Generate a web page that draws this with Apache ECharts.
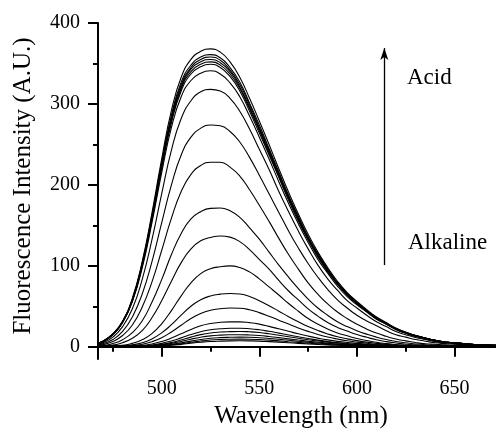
<!DOCTYPE html>
<html>
<head>
<meta charset="utf-8">
<script src="https://cdn.jsdelivr.net/npm/echarts@6/dist/echarts.min.js"></script>
<style>
  html, body { margin: 0; padding: 0; background: #fff; }
  #chart { width: 496px; height: 431px; }
</style>
</head>
<body>
<div id="chart"></div>
<script>
// Emission wavelengths (nm) shared by every scan
const wavelengths = [465,470,475,480,485,490,495,500,505,510,515,520,525,530,535,540,545,550,555,560,565,570,575,580,585,590,595,
                     600,605,610,615,620,625,630,635,640,645,650,660,670,680];

// Fluorescence intensity (A.U.) of each scan, from the acidic end down to the alkaline end
const scan01 = [3,7,16,32,60,105,165,232,292,333,355,365,368,364,352,333,307,279,250,220,191,164,139,117,98,81,67,
                56,46,37,30,23,18,14,11,8,6,5,3,2,2];
const scan02 = [3,7,16,31,59,103,162,228,286,327,348,358,361,357,345,327,301,274,245,216,187,161,136,115,96,79,66,
                55,45,36,29,23,18,14,11,8,6,5,3,2,2];
const scan03 = [3,7,16,31,58,102,161,226,284,324,345,355,358,354,342,324,299,271,243,214,186,160,135,114,95,79,65,
                54,45,36,29,22,18,14,11,8,6,5,3,2,2];
const scan04 = [3,7,15,31,58,101,159,224,282,321,343,352,355,351,340,321,296,269,241,212,184,158,134,113,95,78,65,
                54,44,36,29,22,17,14,11,8,6,5,3,2,2];
const scan05 = [3,7,15,31,57,100,158,222,279,319,340,349,352,348,337,319,294,267,239,211,183,157,133,112,94,78,64,
                54,44,35,29,22,17,13,10.5,8,6,5,3,2,2];
const scan06 = [3,7,15,30,57,100,156,220,277,316,337,346,349,345,334,316,291,264,237,209,181,155,132,111,93,77,64,
                53,44,35,28,22,17,13,10.5,8,6,5,3,2,2];
const scan07 = [3,6,15,30,56,97,153,215,271,309,329,338,341,337,326,309,285,259,232,204,177,152,129,108,91,75,62,
                52,43,34,28,21,17,13,10,7,5.5,5,3,2,2];
const scan08 = [2,5,12,25,47,83,132,189,243,282,304,315,318,316,307,291,269,244,219,192,167,143,121,101,84,70,57,
                48,39,31,25,19,15,11.5,9,6.5,5,4,2.4,2,2];
const scan09 = [2,4,9,19,37,65,105,153,200,237,259,270,274,273,266,253,234,212,189,166,143,122,103,86,71,58,48,
                39,32,26,20,15,12,9,7,5,4,3.3,2,1.5,1.5];
const scan10 = [1.5,2.9,6.6,14,27,49,80,119,159,192,213,224,228,228,222,211,194,175,155,134,114,96,79,65,53,43,35,
                28,22,17,13,9.6,7.4,5.3,3.8,3.2,2.5,2,1.5,1.5,1.5];
const scan11 = [1.5,1.7,4.1,8.9,17.5,32,55,83,114,140,158,167,171,171.5,168,160,147,133,117,101,86,72,59,48,39,31,25,
                20,15.7,12,9,6.7,5,3.6,2.6,2.1,1.6,1.5,1.5,1.5,1.5];
const scan12 = [1.5,1.5,2.3,5.2,10.7,20,36,57,81,104,121,131,135,137,135.5,130,120,108,96,82,69,58,47,38,30,24,19.5,
                15.3,11.8,8.7,6.5,4.8,3.3,2.4,1.9,1.5,1.5,1.5,1.5,1.5,1.5];
const scan13 = [1.5,1.5,1.5,1.9,4.3,8.7,16.3,28.5,44.8,63,79,90.5,96.5,99,100,98,92.6,84,74,64,53.5,44,35,28,22,17,13.6,
                10.3,7.8,5.6,4,2.9,2,1.5,1.5,1.5,1.5,1.5,1.5,1.5,1.5];
const scan14 = [1.5,1.5,1.5,1.5,2.5,5.1,9.8,17.2,27.4,39.2,50.2,58.3,62.9,65.1,65.9,65.3,62.1,57,50.8,44.1,37.3,30.9,25,20.2,16,12.5,9.9,
                7.7,5.8,4.3,3.1,2.2,1.6,1.5,1.5,1.5,1.5,1.5,1.5,1.5,1.5];
const scan15 = [1.5,1.5,1.5,1.5,1.6,3.3,6.4,11.3,18.4,26.7,35,41.3,45.2,47.1,47.9,47.6,45.8,42.3,37.8,33,28.1,23.4,19.1,15.3,12.1,9.6,7.5,
                5.9,4.5,3.3,2.4,1.8,1.5,1.5,1.5,1.5,1.5,1.5,1.5,1.5,1.5];
const scan16 = [1.5,1.5,1.5,1.5,1.5,1.9,3.6,6.6,10.9,16.2,21.5,26,28.8,30.3,30.8,30.8,29.9,28.1,25.3,22.3,19.2,16.1,13.3,10.8,8.6,6.8,5.4,
                4.3,3.3,2.5,1.9,1.5,1.5,1.5,1.5,1.5,1.5,1.5,1.5,1.5,1.5];
const scan17 = [1.5,1.5,1.5,1.5,1.5,1.5,2.3,4.3,7.3,11.1,15.2,18.7,21.1,22.3,22.9,23,22.4,21.1,19.2,17,14.7,12.4,10.3,8.3,6.7,5.3,4.2,
                3.3,2.6,2,1.5,1.5,1.5,1.5,1.5,1.5,1.5,1.5,1.5,1.5,1.5];
const scan18 = [1.5,1.5,1.5,1.5,1.5,1.5,1.65,3.1,5.4,8.5,12,15.1,17.2,18.3,18.8,19,18.6,17.7,16.2,14.4,12.5,10.6,8.8,7.2,5.8,4.6,3.6,
                2.9,2.3,1.7,1.5,1.5,1.5,1.5,1.5,1.5,1.5,1.5,1.5,1.5,1.5];
const scan19 = [1.5,1.5,1.5,1.5,1.5,1.5,1.5,2.4,4.3,6.7,9.5,11.9,13.6,14.5,14.9,15,14.7,14,12.8,11.4,9.9,8.4,7,5.7,4.6,3.6,2.9,
                2.3,1.8,1.5,1.5,1.5,1.5,1.5,1.5,1.5,1.5,1.5,1.5,1.5,1.5];
const scan20 = [1.5,1.5,1.5,1.5,1.5,1.5,1.5,1.8,3.1,5,7.1,9.1,10.6,11.4,11.8,12,11.9,11.3,10.4,9.3,8.1,6.9,5.8,4.7,3.8,3.1,2.4,
                1.9,1.5,1.5,1.5,1.5,1.5,1.5,1.5,1.5,1.5,1.5,1.5,1.5,1.5];
const scan21 = [1.5,1.5,1.5,1.5,1.5,1.5,1.5,1.5,2.5,3.9,5.6,7.2,8.4,9.1,9.4,9.5,9.4,9,8.3,7.4,6.4,5.5,4.6,3.8,3,2.4,1.9,
                1.5,1.5,1.5,1.5,1.5,1.5,1.5,1.5,1.5,1.5,1.5,1.5,1.5,1.5];
const scan22 = [1.5,1.5,1.5,1.5,1.5,1.5,1.5,1.5,2,3.1,4.5,5.7,6.6,7.1,7.4,7.5,7.4,7.1,6.5,5.8,5.1,4.3,3.6,3,2.4,1.9,1.5,
                1.5,1.5,1.5,1.5,1.5,1.5,1.5,1.5,1.5,1.5,1.5,1.5,1.5,1.5];

const scans = [scan01,scan02,scan03,scan04,scan05,scan06,scan07,scan08,scan09,scan10,scan11,
               scan12,scan13,scan14,scan15,scan16,scan17,scan18,scan19,scan20,scan21,scan22];

// Axis ticks
const xTicks = [500, 550, 600, 650];
const xMinorTicks = [475, 525, 575, 625];
const yTicks = [0, 100, 200, 300, 400];
const yMinorTicks = [50, 150, 250, 350];

const FONT = "'Liberation Serif', 'Times New Roman', serif";
const X_MIN = 467.4, X_MAX = 671.2, Y_MIN = -15, Y_MAX = 400;

const chart = echarts.init(document.getElementById('chart'), null, { renderer: 'canvas' });

const series = scans.map((vals) => ({
  type: 'line',
  xAxisIndex: 0,
  yAxisIndex: 0,
  data: wavelengths.map((w, i) => [w, vals[i]]),
  showSymbol: false,
  smooth: true,
  lineStyle: { color: '#000', width: 1.1 },
  silent: true,
  z: 2
}));

// Direction arrow: from the alkaline end up to the acidic end
series[0].markLine = {
  silent: true,
  symbol: ['none', 'arrow'],
  symbolSize: [6, 12],
  label: { show: false },
  lineStyle: { color: '#000', width: 1.3, type: 'solid' },
  data: [[{ coord: [614, 101] }, { coord: [614, 369] }]]
};

chart.setOption({
  animation: false,
  backgroundColor: '#fff',
  grid: { left: 98, right: 0, top: 23, bottom: 72, containLabel: false },
  xAxis: [{
    type: 'value', min: X_MIN, max: X_MAX, position: 'bottom',
    axisLine: { show: true, lineStyle: { color: '#000', width: 2 } },
    axisTick: { show: true, inside: false, length: 10, customValues: xTicks, lineStyle: { color: '#000', width: 2 } },
    axisLabel: { show: true, customValues: xTicks, margin: 20, fontFamily: FONT, fontSize: 20, color: '#000' },
    splitLine: { show: false }
  }, {
    type: 'value', min: X_MIN, max: X_MAX, position: 'bottom', gridIndex: 0,
    axisLine: { show: false },
    axisTick: { show: true, inside: false, length: 5, customValues: xMinorTicks, lineStyle: { color: '#000', width: 2 } },
    axisLabel: { show: false },
    splitLine: { show: false }
  }],
  yAxis: [{
    type: 'value', min: Y_MIN, max: Y_MAX, position: 'left',
    axisLine: { show: true, lineStyle: { color: '#000', width: 2 } },
    axisTick: { show: true, inside: false, length: 10, customValues: yTicks, lineStyle: { color: '#000', width: 2 } },
    axisLabel: { show: true, customValues: yTicks, margin: 18, fontFamily: FONT, fontSize: 20, color: '#000' },
    splitLine: { show: false }
  }, {
    type: 'value', min: Y_MIN, max: Y_MAX, position: 'left', gridIndex: 0,
    axisLine: { show: false },
    axisTick: { show: true, inside: false, length: 5, customValues: yMinorTicks, lineStyle: { color: '#000', width: 2 } },
    axisLabel: { show: false },
    splitLine: { show: false }
  }],
  graphic: [
    { type: 'text', x: 301, y: 416,
      style: { text: 'Wavelength (nm)', font: '25px ' + FONT, fill: '#000', align: 'center', verticalAlign: 'middle' } },
    { type: 'text', x: 23, y: 186, rotation: Math.PI / 2,
      style: { text: 'Fluorescence Intensity (A.U.)', font: '25px ' + FONT, fill: '#000', align: 'center', verticalAlign: 'middle' } },
    { type: 'text', left: 407, top: 66, style: { text: 'Acid', font: '23px ' + FONT, fill: '#000' } },
    { type: 'text', left: 408, top: 231, style: { text: 'Alkaline', font: '23px ' + FONT, fill: '#000' } }
  ],
  series: series
});
</script>
</body>
</html>
